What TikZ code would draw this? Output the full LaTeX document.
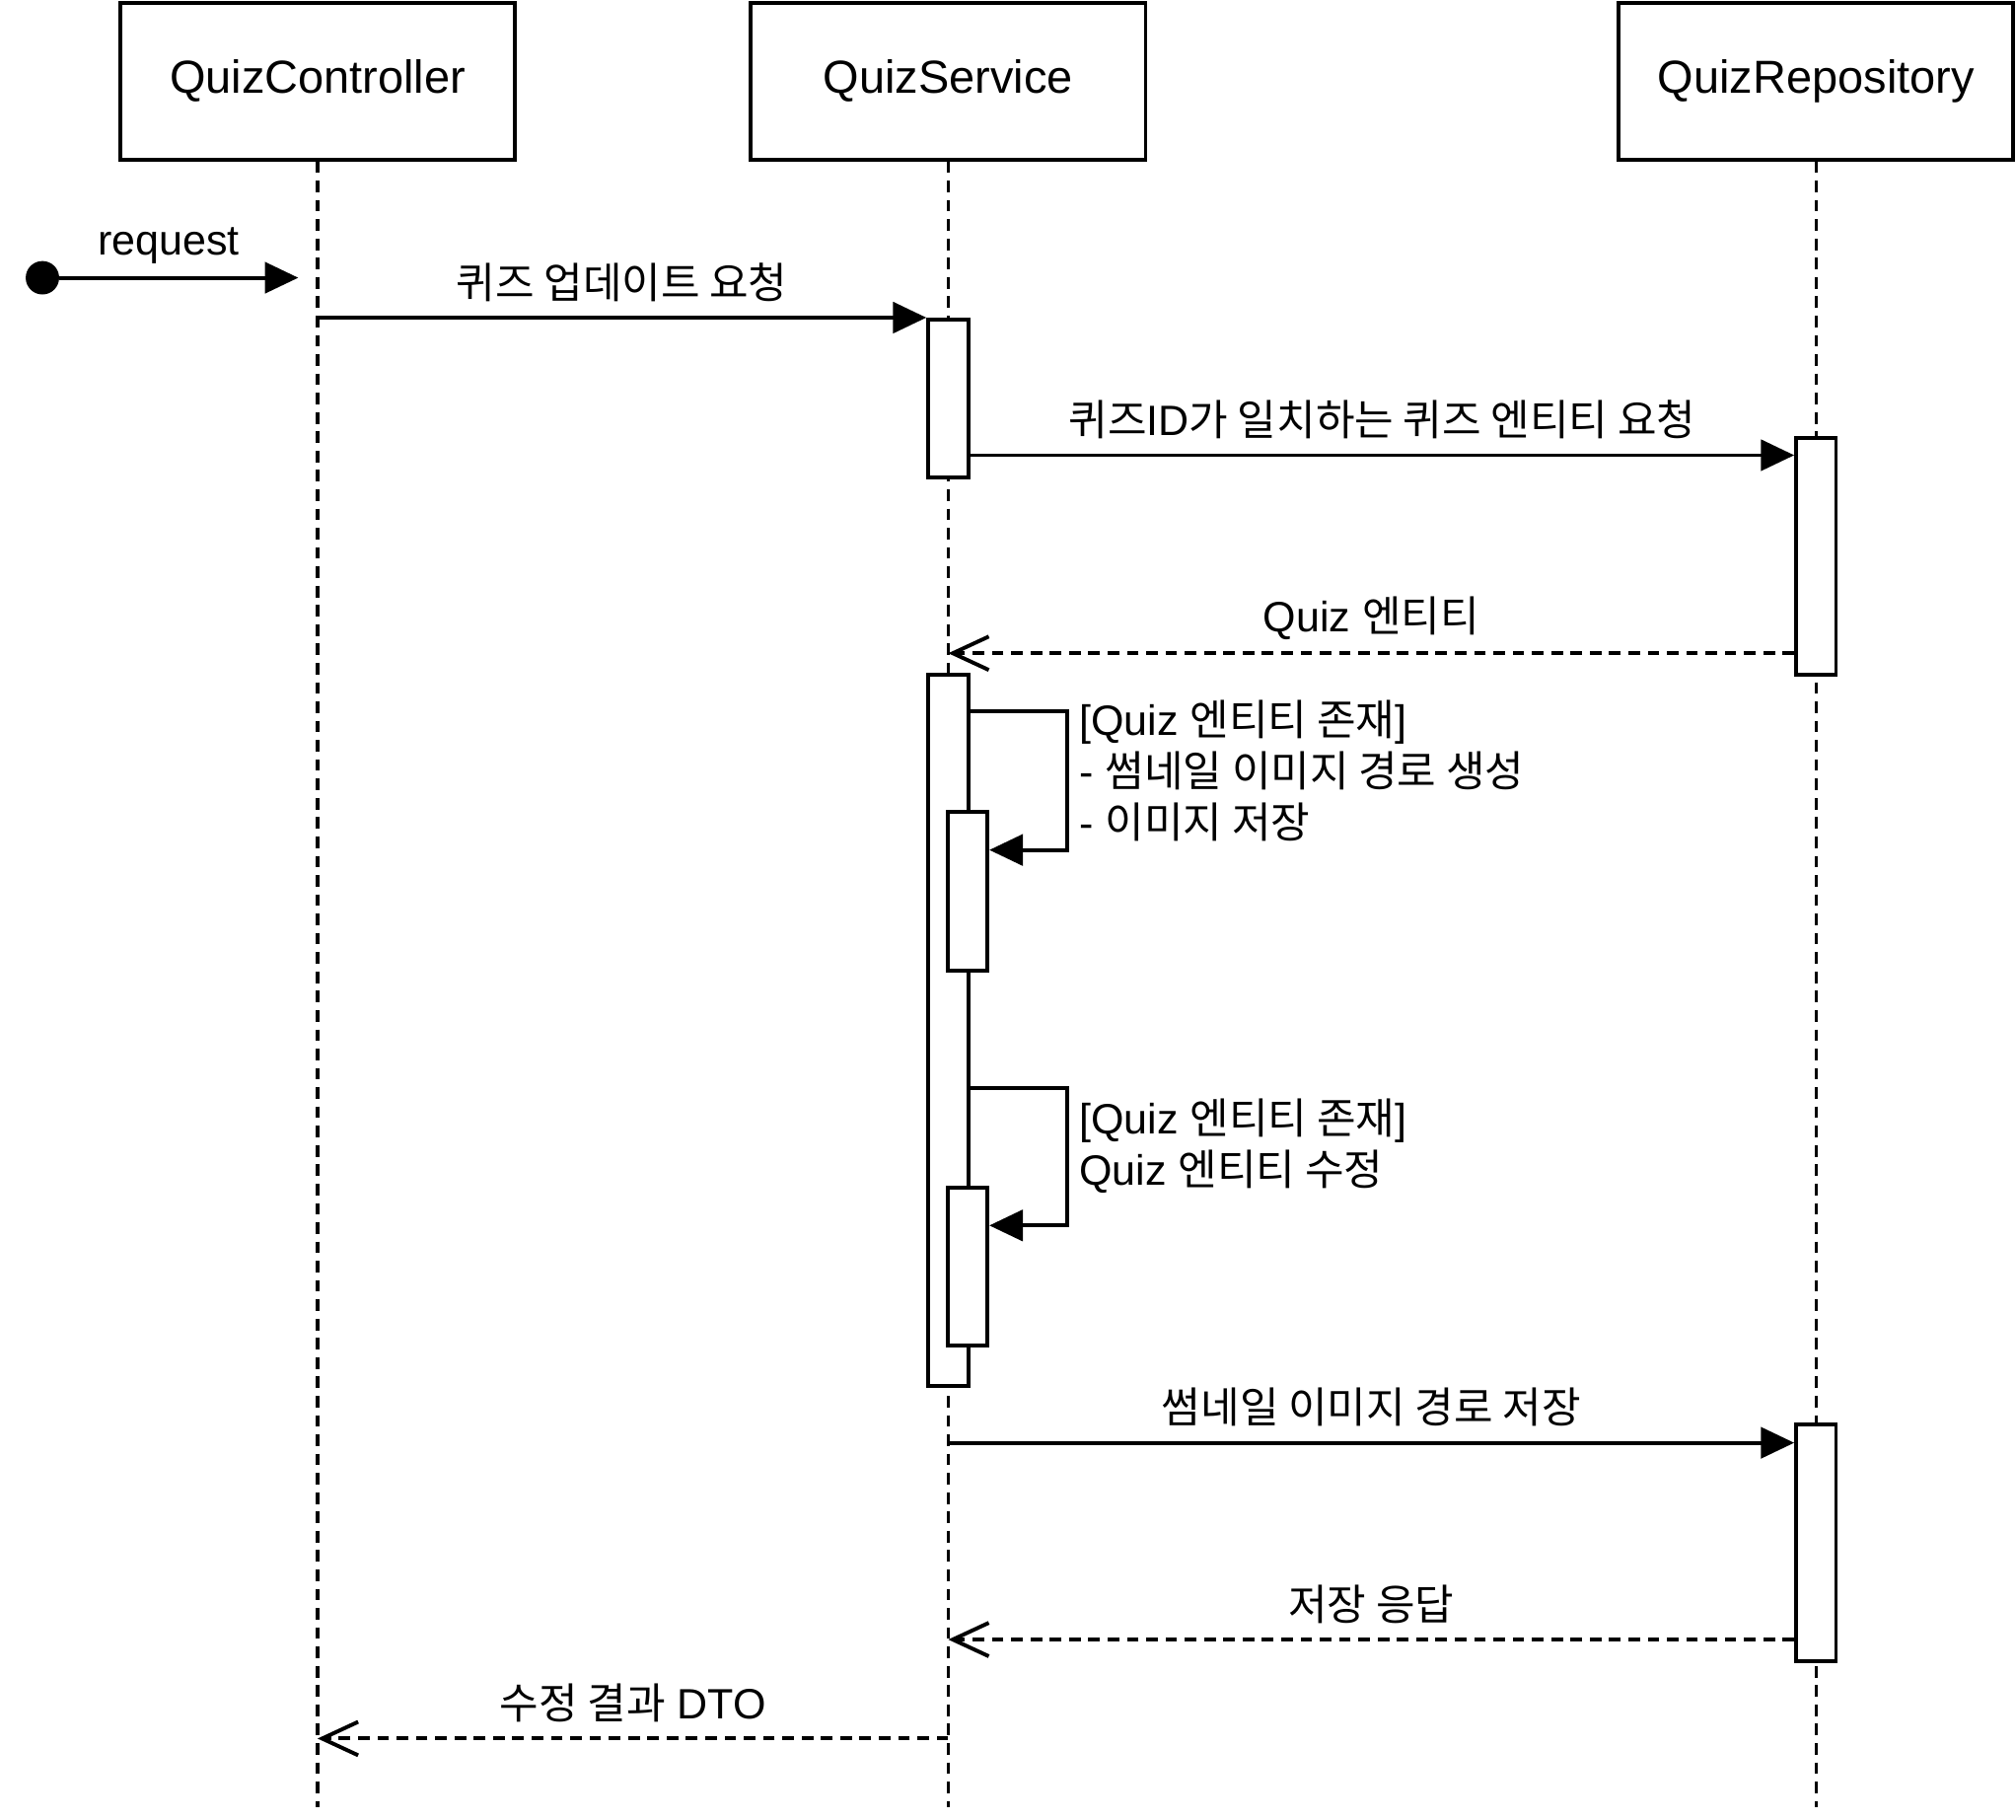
\documentclass[tikz,border=0pt]{standalone}
\usepackage{fontspec}
\setmainfont{Liberation Sans}
\newfontfamily\krfont{Noto Sans CJK KR}
\newcommand{\kr}[1]{{\krfont #1}}
\usetikzlibrary{arrows.meta}

\begin{document}
\begin{tikzpicture}[x=1pt,y=-1pt,
  obj/.style={draw, line width=3pt, minimum width=307pt, minimum height=122pt, font=\fontsize{36}{43}\selectfont},
  life/.style={line width=2.5pt, dash pattern=on 9pt off 6pt},
  bar/.style={draw, fill=white, line width=3pt, minimum width=31pt, anchor=north, inner sep=0pt},
  msg/.style={line width=3pt, -{Triangle[length=26pt,width=24pt]}},
  ret/.style={line width=3pt, dash pattern=on 9pt off 6pt, -{Straight Barb[length=28pt,width=26pt,line width=3pt]}},
  lbl/.style={above, inner sep=0pt, yshift=11pt, font=\fontsize{33}{40}\selectfont},
  note/.style={anchor=north west, align=left, inner sep=0pt, font=\fontsize{33}{40}\selectfont}]
\useasboundingbox (0,0) rectangle (1568,1415);
\node[obj] (ctl) at (247,63) {QuizController};
\node[obj] (svc) at (737.5,63) {QuizService};
\node[obj] (repo) at (1412.5,63) {QuizRepository};
\coordinate (end) at (0,1405);
\foreach \n in {ctl,svc,repo}
  \draw[life] (\n.south) -- (\n.south |- end);
\node[bar, minimum height=123pt] (act1) at (737.5,247) {};
\node[bar, minimum height=184pt] (ract1) at (1412.5,339) {};
\node[bar, minimum height=553pt] (act2) at (737.5,523) {};
\node[bar, minimum height=123pt] (sub1) at (752.5,630) {};
\node[bar, minimum height=123pt] (sub2) at (752.5,922) {};
\node[bar, minimum height=184pt] (ract2) at (1412.5,1106) {};
\node[circle, fill, minimum size=26pt, inner sep=0pt] (start) at (33,216) {};
\coordinate (reqend) at (232,216);
\draw[msg] (start) -- node[lbl, xshift=-8pt, yshift=-2pt]{request} (reqend);
\draw[msg] (ctl |- act1.north) -- node[lbl]{\kr{퀴즈 업데이트 요청}} (act1.north west);
\draw[msg] (act1.east |- 0,354) -- node[lbl]{\kr{퀴즈}ID\kr{가 일치하는 퀴즈 엔티티 요청}} (ract1.west |- 0,354);
\draw[ret] (ract1.west |- 0,508) -- node[lbl, yshift=-2pt]{Quiz \kr{엔티티}} (svc |- 0,508);
\draw[msg] (act2.east |- 0,553) -- (830,553) node[note, xshift=8pt, yshift=10pt]{[Quiz \kr{엔티티 존재}]\\- \kr{썸네일 이미지 경로 생성}\\- \kr{이미지 저장}} -- (830,661) -- (sub1.east |- 0,661);
\draw[msg] (act2.east |- 0,846) -- (830,846) node[note, xshift=8pt, yshift=-7pt]{[Quiz \kr{엔티티 존재}]\\Quiz \kr{엔티티 수정}} -- (830,953) -- (sub2.east |- 0,953);
\draw[msg] (svc |- 0,1122) -- node[lbl]{\kr{썸네일 이미지 경로 저장}} (ract2.west |- 0,1122);
\draw[ret] (ract2.west |- 0,1275) -- node[lbl]{\kr{저장 응답}} (svc |- 0,1275);
\draw[ret] (svc |- 0,1352) -- node[lbl]{\kr{수정 결과} DTO} (ctl |- 0,1352);
\end{tikzpicture}
\end{document}
